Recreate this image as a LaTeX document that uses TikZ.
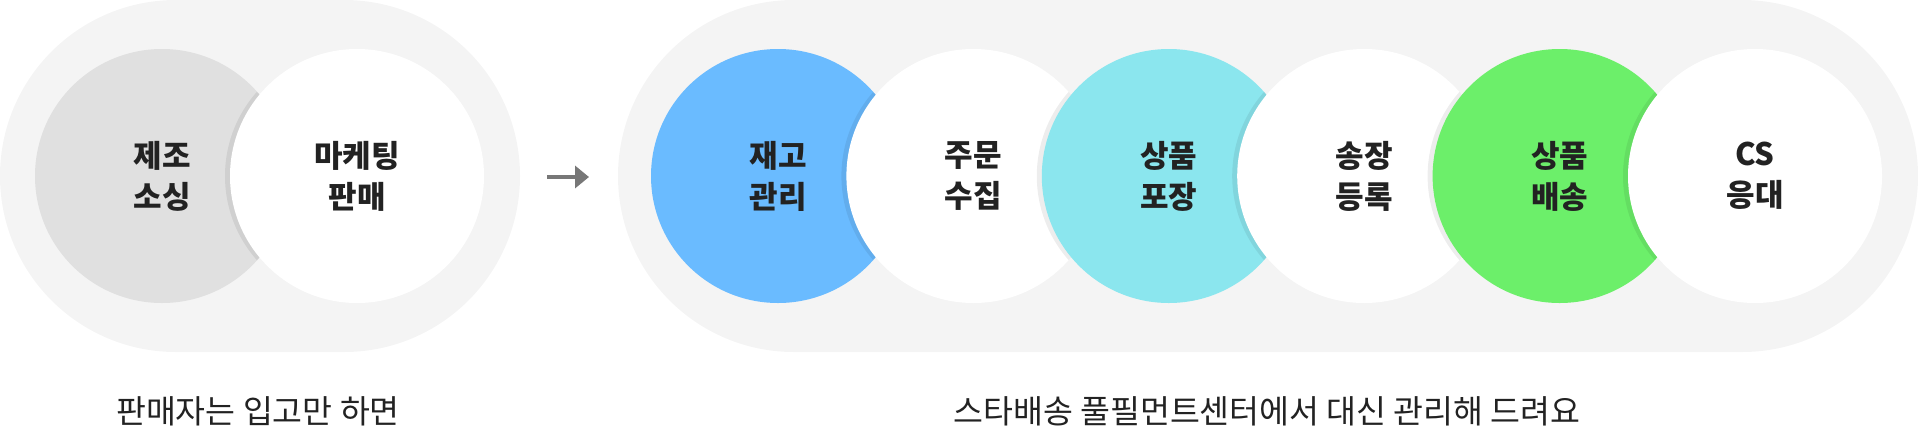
\documentclass[tikz,border=0pt]{standalone}
\usepackage{fontspec}
\setmainfont{Noto Sans CJK KR}[BoldFont={Noto Sans CJK KR Black}]
\usetikzlibrary{arrows.meta, positioning}

\definecolor{pillgray}{HTML}{F4F4F4}
\definecolor{stagegray}{HTML}{E0E0E0}
\definecolor{stageblue}{HTML}{6ABBFF}
\definecolor{stagecyan}{HTML}{8BE6EE}
\definecolor{stagegreen}{HTML}{6CEF6A}
\definecolor{labeldark}{HTML}{222222}
\definecolor{arrowgray}{HTML}{777777}

\tikzset{
    pill/.style={fill=pillgray, rounded corners=176pt},
    stage/.style={circle, minimum size=254pt, inner sep=0pt, outer sep=0pt,
        align=center, text=labeldark, font=\fontsize{31}{41}\selectfont\bfseries},
    rim/.style={fill=black, opacity=0.07},
    caption/.style={text=labeldark, font=\fontsize{32.5}{38}\selectfont},
    flowarrow/.style={draw=arrowgray, line width=3.5pt,
        -{Triangle[length=14pt, width=22pt]}},
}

\begin{document}
\begin{tikzpicture}[x=1pt, y=-1pt]
    \useasboundingbox (0,0) rectangle (1918,432);

    % background pills
    \fill[pill] (0,0) rectangle (520,352);
    \fill[pill] (618,0) rectangle (1918,352);

    % seller side
    \node[stage, fill=stagegray] (jejo) at (162,176) {제조\\소싱};
    \begin{scope}
        \clip (jejo.center) circle (127pt);
        \fill[rim] (352,176) circle (127pt);
    \end{scope}
    \node[stage, fill=white, right=-59pt of jejo] (maket) {마케팅\\판매};

    % arrow
    \coordinate (arrowtail) at (547,177);
    \coordinate (arrowtip) at (589,177);
    \draw[flowarrow] (arrowtail) -- (arrowtip);

    % fulfilment side
    \foreach \fillc/\txt [count=\i from 0] in {
        stageblue/{재고\\관리}, white/{주문\\수집}, stagecyan/{상품\\포장},
        white/{송장\\등록}, stagegreen/{상품\\배송}, white/{CS\\응대}} {
        \pgfmathsetmacro\cx{778+195.4*\i}
        \ifnum\i>0
            \begin{scope}
                \clip (\cx-195.4,176) circle (127pt);
                \fill[rim] (\cx-5,176) circle (127pt);
            \end{scope}
        \fi
        \node[stage, fill=\fillc] (task\i) at (\cx,176) {\txt};
    }

    % captions
    \node[caption] (leftnote) at (258,411) {판매자는 입고만 하면};
    \node[caption] (rightnote) at (1267,411) {스타배송 풀필먼트센터에서 대신 관리해 드려요};
\end{tikzpicture}
\end{document}
